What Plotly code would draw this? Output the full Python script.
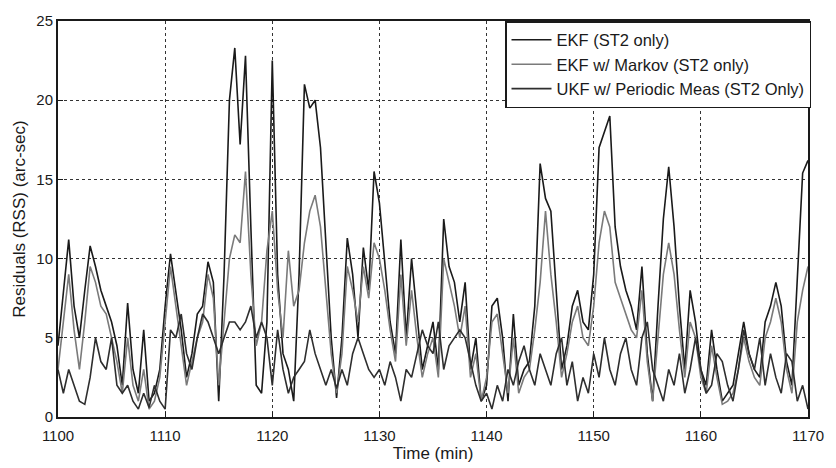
import plotly.graph_objects as go

t0 = 1100.0
step = 0.5

ekf = [4.5, 8, 11.2, 7, 5, 8, 10.8, 9.5, 8, 7,
       6, 4.5, 2, 7.2, 3, 1.5, 5.5, 1, 1.5, 3,
       7, 10.3, 8, 5.5, 2.5, 4, 6.5, 7, 9.8, 8.5,
       1, 9, 20, 23.3, 17.2, 22.8, 12, 2, 1.5, 6,
       22.5, 9, 4, 3, 1, 9, 21, 19.5, 20, 17,
       11, 5, 1.2, 5, 11.3, 9, 5, 10.7, 8, 15.5,
       13.5, 9.5, 6, 4, 11.2, 5, 10, 6.5, 3, 4.5,
       6, 3, 12.5, 9.5, 8.5, 6, 8.5, 3, 5, 1,
       2, 7, 7.5, 5, 1, 6.5, 2, 3, 3.5, 7,
       16, 13.8, 13, 8, 3, 4.5, 7, 8, 6, 5.5,
       9, 17, 18, 19, 12, 9.5, 8, 7, 5.5, 9.5,
       4, 1, 7, 12.5, 15.8, 12, 7, 3, 8, 6,
       3, 2, 5.5, 3, 1, 1.5, 2, 4, 6, 4,
       3, 2.5, 6, 7, 8.5, 7, 3.5, 2, 9, 15.4,
       16.2]

markov = [3, 6, 9, 5.5, 3, 6, 9.5, 8.5, 7, 6.5,
          5, 3.5, 1.5, 5, 2, 1, 3, 0.5, 1, 2.5,
          6, 9.5, 7, 4.5, 2, 3.5, 5, 6, 9, 7.5,
          2, 6, 10, 11.5, 11, 15.5, 9, 4.5, 6, 10.5,
          13, 8, 5, 10.5, 7, 8, 11, 13, 14, 12,
          8, 4, 1.5, 4, 9.5, 8, 6, 9.5, 7.5, 11,
          10, 8, 5.5, 3.5, 9, 4.5, 8, 5, 2.5, 4,
          5, 2.5, 10, 8.5, 7, 5, 7, 2.5, 4, 1,
          2.5, 6, 6.5, 4, 1.5, 5, 1.5, 2.5, 3, 5.5,
          8.5, 13, 9, 6, 2.5, 4, 6, 7, 5, 4.5,
          7, 11, 13, 12, 8.5, 7.5, 6.5, 5.5, 5, 8,
          3.5, 1, 5, 9, 11, 9, 5.5, 2.5, 6, 5,
          2.5, 1.5, 4.5, 2.5, 0.8, 1, 1.5, 3, 5, 3.5,
          2.5, 2, 5, 6, 7.5, 6, 3, 1.5, 6, 8,
          9.5]

ukf = [3, 1.5, 3, 2, 1, 0.8, 2.5, 5, 3.5, 3,
       5, 2, 1.5, 2, 1, 0.5, 1.5, 0.6, 2, 1,
       0.5, 5.5, 5, 6.5, 4, 3, 5, 6.5, 6, 5,
       4, 5, 6, 6, 5.5, 6, 7, 5, 6, 5,
       2, 5.5, 3, 1.5, 2.5, 3, 3.5, 5.5, 4, 3,
       2, 3, 1.8, 3, 2, 4, 5, 4, 3, 2.5,
       3, 2, 3.5, 2.5, 1, 3, 2.5, 4, 5.5, 4.5,
       4, 6, 3, 4.5, 5, 5.5, 5, 3.5, 2, 1,
       1.5, 0.5, 2, 1, 3, 2, 3.5, 4.5, 3, 2,
       4, 3, 2, 4, 5, 2, 3.5, 1, 2.5, 1.5,
       4, 2.5, 5, 3, 2, 4, 5, 3, 2, 5,
       6, 3, 2, 1, 3, 2, 4, 1.5, 3, 5,
       3, 1.5, 2, 4, 3.5, 2, 1, 3, 5.5, 4,
       3, 5, 2, 4, 2.5, 1.5, 4, 3.5, 1, 2,
       0.5]

time = [t0 + i * step for i in range(len(ekf))]

x_ticks = [1100, 1110, 1120, 1130, 1140, 1150, 1160, 1170]
y_ticks = [0, 5, 10, 15, 20, 25]

fig = go.Figure()
fig.add_trace(go.Scatter(x=time, y=ekf, mode="lines", name="EKF (ST2 only)",
                         line=dict(color="#1a1a1a", width=1.6)))
fig.add_trace(go.Scatter(x=time, y=markov, mode="lines", name="EKF w/ Markov (ST2 only)",
                         line=dict(color="#7a7a7a", width=1.6)))
fig.add_trace(go.Scatter(x=time, y=ukf, mode="lines", name="UKF w/ Periodic Meas (ST2 Only)",
                         line=dict(color="#2e2e2e", width=1.6)))

font = "Liberation Sans, Arial, sans-serif"
fig.update_layout(
    width=836, height=468,
    margin=dict(l=58, r=24, t=15, b=48),
    paper_bgcolor="white", plot_bgcolor="white",
    font=dict(family=font, color="#1a1a1a", size=15),
    showlegend=True,
    legend=dict(x=1.004, y=1.0, xanchor="right", yanchor="top",
                bgcolor="white", bordercolor="#1a1a1a", borderwidth=1.5,
                font=dict(size=16.5, family=font), tracegroupgap=0,
                itemwidth=40),
    xaxis=dict(range=[1100, 1170], tickvals=x_ticks,
               showgrid=True, gridcolor="#333", griddash="dot", gridwidth=1.2,
               showline=True, linecolor="#1a1a1a", linewidth=2, mirror=True,
               ticks="inside", ticklen=5, tickcolor="#1a1a1a",
               zeroline=False, ticklabelstandoff=4,
               title=dict(text="Time (min)", font=dict(size=17), standoff=0),
               tickfont=dict(size=15)),
    yaxis=dict(range=[0, 25], tickvals=y_ticks,
               showgrid=True, gridcolor="#333", griddash="dot", gridwidth=1.2,
               showline=True, linecolor="#1a1a1a", linewidth=2, mirror=True,
               ticks="inside", ticklen=5, tickcolor="#1a1a1a",
               zeroline=False,
               title=dict(text="Residuals (RSS) (arc-sec)", font=dict(size=17), standoff=6),
               tickfont=dict(size=15)),
)

fig.write_html("out.html")
